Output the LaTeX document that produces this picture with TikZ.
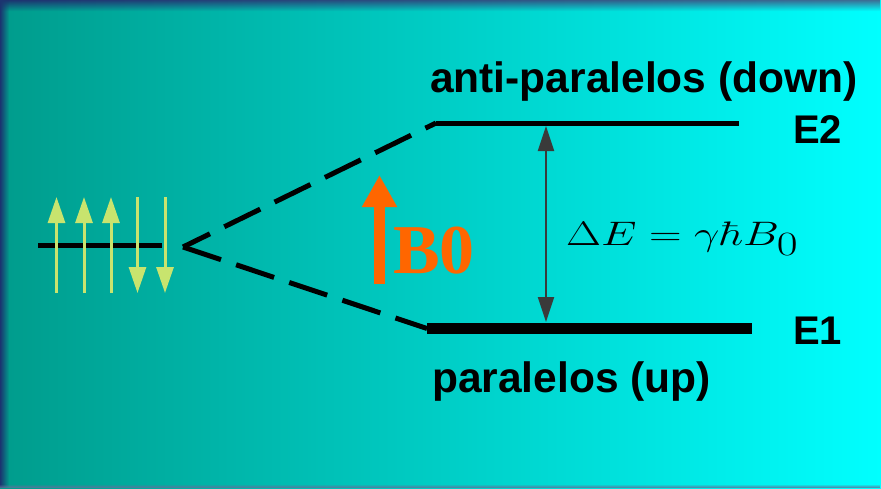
\documentclass[tikz,border=0pt]{standalone}
\usepackage{fix-cm}
\usepackage[no-math]{fontspec}
\setmainfont{Liberation Sans}
\newfontfamily\serifbold{Liberation Serif}
\usetikzlibrary{arrows.meta,fadings}
\definecolor{bgleft}{RGB}{0,156,140}
\definecolor{bgright}{RGB}{0,255,255}
\definecolor{frameblue}{RGB}{28,52,112}
\definecolor{framelight}{RGB}{60,112,150}
\definecolor{spincol}{RGB}{200,228,110}
\definecolor{borange}{RGB}{255,102,0}
\definecolor{gaparrow}{RGB}{58,58,58}
\tikzset{
  level/.style={line width=#1, line cap=butt},
  split/.style={line width=5pt, dash pattern=on 40pt off 16pt},
  spin/.style={spincol, line width=3pt, -{Triangle[length=26pt,width=17pt]}},
  gap/.style={gaparrow, line width=2pt, {Triangle[length=25pt,width=16pt]}-{Triangle[length=25pt,width=16pt]}},
  field/.style={borange, line width=11pt, -{Triangle[length=32pt,width=33pt]}},
  lbl/.style={inner sep=0pt, anchor=base west, font=\fontsize{42.5}{50}\selectfont\bfseries},
  elbl/.style={inner sep=0pt, anchor=base west, font=\fontsize{40}{48}\selectfont\bfseries},
}
\begin{document}
\begin{tikzpicture}[x=1pt,y=-1pt]
\useasboundingbox (0,0) rectangle (881,488);
% background
\shade[left color=bgleft, right color=bgright] (0,0) rectangle (881,488);
% frame
\shade[left color=frameblue, right color=framelight, path fading=south] (0,0) rectangle (881,11);
\fill[frameblue, path fading=east] (0,0) rectangle (9,488);
\fill[frameblue!70, path fading=north] (0,484) rectangle (881,488);

% ground level
\coordinate (g0) at (38,245);
\coordinate (g1) at (162,245);
\draw[level=5pt] (g0) -- (g1);
% spins
\draw[spin] (56.5,293) -- (56.5,197);
\draw[spin] (84,293) -- (84,197);
\draw[spin] (111,293) -- (111,197);
\draw[spin] (137.5,197) -- (137.5,293);
\draw[spin] (165,197) -- (165,293);

% split point and levels
\coordinate (sp) at (183,247);
\coordinate (e2l) at (436,123);
\coordinate (e2r) at (739,123);
\coordinate (e1l) at (427,328.5);
\coordinate (e1r) at (752,328.5);
\draw[level=5pt] (e2l) -- (e2r);
\draw[level=11pt] (e1l) -- (e1r);
\draw[split, dash phase=10pt] (sp) -- (e2l);
\draw[split] (sp) -- (e1l);

% energy gap
\coordinate (ga) at (546,126);
\coordinate (gb) at (546,322);
\draw[gap] (ga) -- (gb);
\node[inner sep=0pt, anchor=base west] (de) at (566,245)
  {\scalebox{1.33}[1]{\fontsize{34}{40}\selectfont$\Delta E = \gamma\hbar B_{\textstyle 0}$}};

% B0 field
\coordinate (fb) at (379.5,284);
\coordinate (ft) at (379.5,175);
\draw[field] (fb) -- (ft);
\node[inner sep=0pt, anchor=base west, text=borange, font=\fontsize{70}{80}\selectfont\serifbold\bfseries] (b0) at (393,273) {B0};

% labels
\node[lbl] (anti) at (430,92) {anti-paralelos (down)};
\node[lbl] (para) at (432,392) {paralelos (up)};
\node[elbl] (E2) at (793,143) {E2};
\node[elbl] (E1) at (793,344) {E1};
\end{tikzpicture}
\end{document}
